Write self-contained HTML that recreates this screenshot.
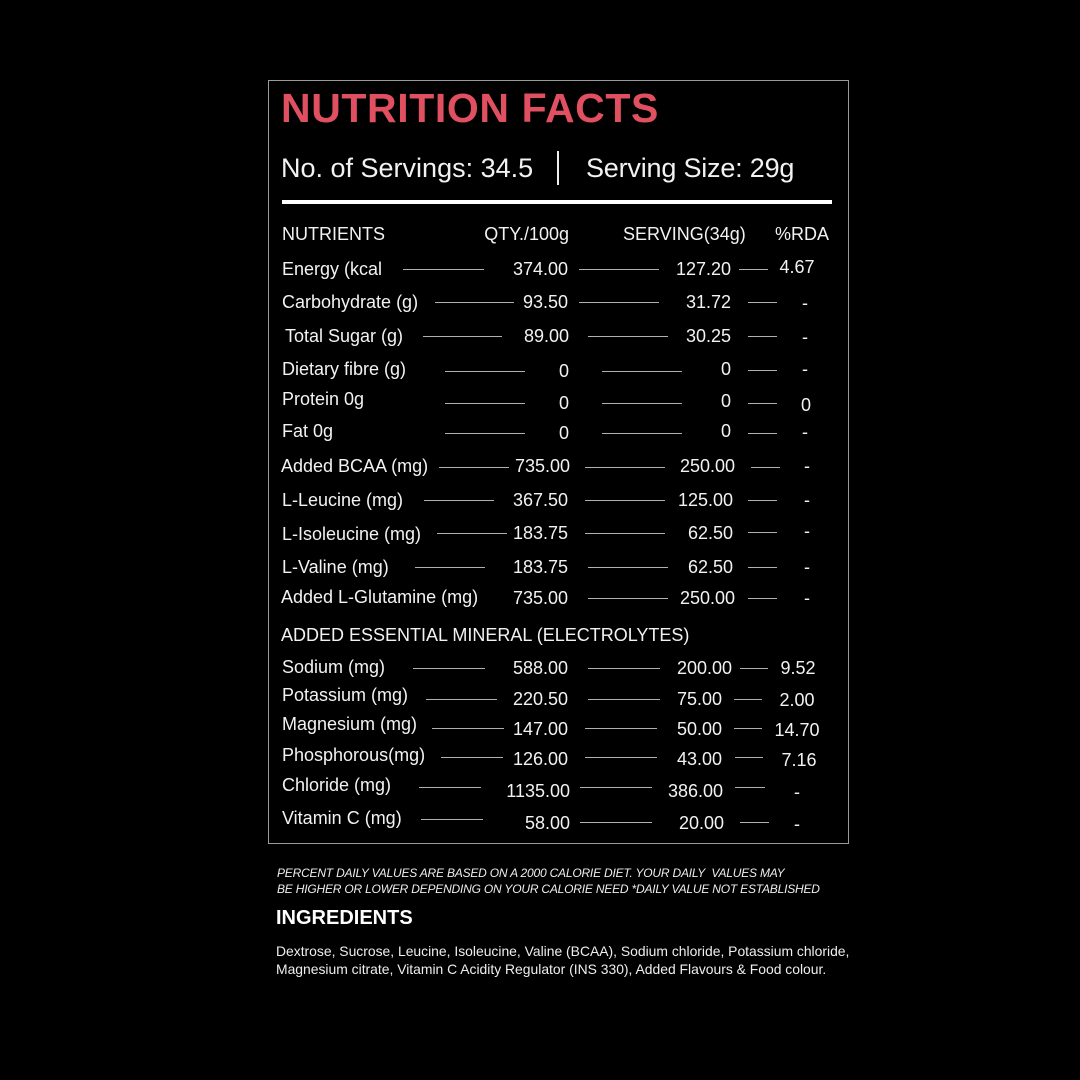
<!DOCTYPE html>
<html><head><meta charset="utf-8"><style>
html,body{margin:0;padding:0;background:#000;}
body{width:1080px;height:1080px;position:relative;overflow:hidden;font-family:"Liberation Sans",sans-serif;color:#f2f2f2;}
.t{position:absolute;font-size:18px;line-height:22px;white-space:nowrap;}
.c{transform:translateX(-50%);}
.l{position:absolute;height:1px;background:#b0b0b0;}
</style></head><body>
<div style="position:absolute;left:268px;top:80px;width:579px;height:762px;border:1px solid #9a9a9a;"></div>
<div style="position:absolute;left:281px;top:84px;font-size:41px;font-weight:bold;color:#e05060;line-height:48px;letter-spacing:0.6px;">NUTRITION FACTS</div>
<div style="position:absolute;left:281px;top:152px;font-size:27px;line-height:32px;">No. of Servings: 34.5</div>
<div style="position:absolute;left:557px;top:151px;width:2px;height:34px;background:#eee;"></div>
<div style="position:absolute;left:586px;top:152px;font-size:27px;line-height:32px;letter-spacing:-0.2px;">Serving Size: 29g</div>
<div style="position:absolute;left:282px;top:200px;width:550px;height:4px;background:#fff;"></div>

<div class="t" style="left:282px;top:223px">NUTRIENTS</div>
<div class="t" style="right:511px;top:223px">QTY./100g</div>
<div class="t" style="left:623px;top:223px">SERVING(34g)</div>
<div class="t" style="left:775px;top:223px">%RDA</div>

<div class="t" style="left:282px;top:258px">Energy (kcal</div>
<div class="l" style="left:403px;width:81px;top:269px"></div>
<div class="t" style="right:512px;top:258px">374.00</div>
<div class="l" style="left:579px;width:80px;top:269px"></div>
<div class="t" style="right:349px;top:258px">127.20</div>
<div class="l" style="left:739px;width:29px;top:269px"></div>
<div class="t c" style="left:797px;top:256px">4.67</div>

<div class="t" style="left:282px;top:291px">Carbohydrate (g)</div>
<div class="l" style="left:435px;width:79px;top:302px"></div>
<div class="t" style="right:512px;top:291px">93.50</div>
<div class="l" style="left:579px;width:80px;top:302px"></div>
<div class="t" style="right:349px;top:291px">31.72</div>
<div class="l" style="left:748px;width:29px;top:302px"></div>
<div class="t c" style="left:805px;top:292px">-</div>

<div class="t" style="left:285px;top:325px">Total Sugar (g)</div>
<div class="l" style="left:423px;width:79px;top:336px"></div>
<div class="t" style="right:511px;top:325px">89.00</div>
<div class="l" style="left:588px;width:80px;top:336px"></div>
<div class="t" style="right:349px;top:325px">30.25</div>
<div class="l" style="left:748px;width:29px;top:336px"></div>
<div class="t c" style="left:805px;top:326px">-</div>

<div class="t" style="left:282px;top:358px">Dietary fibre (g)</div>
<div class="l" style="left:445px;width:80px;top:371px"></div>
<div class="t c" style="left:564px;top:360px">0</div>
<div class="l" style="left:602px;width:80px;top:371px"></div>
<div class="t c" style="left:726px;top:358px">0</div>
<div class="l" style="left:748px;width:29px;top:370px"></div>
<div class="t c" style="left:805px;top:358px">-</div>

<div class="t" style="left:282px;top:388px">Protein 0g</div>
<div class="l" style="left:445px;width:80px;top:403px"></div>
<div class="t c" style="left:564px;top:392px">0</div>
<div class="l" style="left:602px;width:80px;top:403px"></div>
<div class="t c" style="left:726px;top:390px">0</div>
<div class="l" style="left:748px;width:29px;top:403px"></div>
<div class="t c" style="left:806px;top:394px">0</div>

<div class="t" style="left:282px;top:420px">Fat 0g</div>
<div class="l" style="left:445px;width:80px;top:433px"></div>
<div class="t c" style="left:564px;top:422px">0</div>
<div class="l" style="left:602px;width:80px;top:433px"></div>
<div class="t c" style="left:726px;top:420px">0</div>
<div class="l" style="left:748px;width:29px;top:433px"></div>
<div class="t c" style="left:805px;top:421px">-</div>

<div class="t" style="left:281px;top:455px">Added BCAA (mg)</div>
<div class="l" style="left:439px;width:70px;top:467px"></div>
<div class="t" style="right:510px;top:455px">735.00</div>
<div class="l" style="left:585px;width:80px;top:467px"></div>
<div class="t" style="right:345px;top:455px">250.00</div>
<div class="l" style="left:751px;width:29px;top:467px"></div>
<div class="t c" style="left:807px;top:455px">-</div>

<div class="t" style="left:282px;top:489px">L-Leucine (mg)</div>
<div class="l" style="left:424px;width:70px;top:500px"></div>
<div class="t" style="right:512px;top:489px">367.50</div>
<div class="l" style="left:585px;width:80px;top:500px"></div>
<div class="t" style="right:347px;top:489px">125.00</div>
<div class="l" style="left:748px;width:29px;top:500px"></div>
<div class="t c" style="left:807px;top:489px">-</div>

<div class="t" style="left:282px;top:523px">L-Isoleucine (mg)</div>
<div class="l" style="left:437px;width:70px;top:533px"></div>
<div class="t" style="right:512px;top:522px">183.75</div>
<div class="l" style="left:585px;width:80px;top:533px"></div>
<div class="t" style="right:347px;top:522px">62.50</div>
<div class="l" style="left:748px;width:29px;top:532px"></div>
<div class="t c" style="left:807px;top:520px">-</div>

<div class="t" style="left:282px;top:556px">L-Valine (mg)</div>
<div class="l" style="left:415px;width:70px;top:567px"></div>
<div class="t" style="right:512px;top:556px">183.75</div>
<div class="l" style="left:588px;width:80px;top:567px"></div>
<div class="t" style="right:347px;top:556px">62.50</div>
<div class="l" style="left:748px;width:29px;top:567px"></div>
<div class="t c" style="left:807px;top:556px">-</div>

<div class="t" style="left:281px;top:586px">Added L-Glutamine (mg)</div>
<div class="t" style="right:512px;top:587px">735.00</div>
<div class="l" style="left:588px;width:80px;top:598px"></div>
<div class="t" style="right:345px;top:587px">250.00</div>
<div class="l" style="left:748px;width:29px;top:598px"></div>
<div class="t c" style="left:807px;top:587px">-</div>

<div class="t" style="left:281px;top:624px">ADDED ESSENTIAL MINERAL (ELECTROLYTES)</div>

<div class="t" style="left:282px;top:656px">Sodium (mg)</div>
<div class="l" style="left:413px;width:72px;top:668px"></div>
<div class="t" style="right:512px;top:657px">588.00</div>
<div class="l" style="left:588px;width:72px;top:668px"></div>
<div class="t" style="right:348px;top:657px">200.00</div>
<div class="l" style="left:740px;width:28px;top:668px"></div>
<div class="t c" style="left:798px;top:657px">9.52</div>

<div class="t" style="left:282px;top:684px">Potassium (mg)</div>
<div class="l" style="left:426px;width:71px;top:699px"></div>
<div class="t" style="right:512px;top:688px">220.50</div>
<div class="l" style="left:588px;width:72px;top:699px"></div>
<div class="t" style="right:358px;top:688px">75.00</div>
<div class="l" style="left:734px;width:28px;top:699px"></div>
<div class="t c" style="left:797px;top:689px">2.00</div>

<div class="t" style="left:282px;top:713px">Magnesium (mg)</div>
<div class="l" style="left:432px;width:72px;top:728px"></div>
<div class="t" style="right:512px;top:718px">147.00</div>
<div class="l" style="left:585px;width:72px;top:728px"></div>
<div class="t" style="right:358px;top:718px">50.00</div>
<div class="l" style="left:734px;width:28px;top:728px"></div>
<div class="t c" style="left:797px;top:719px">14.70</div>

<div class="t" style="left:282px;top:744px">Phosphorous(mg)</div>
<div class="l" style="left:441px;width:62px;top:757px"></div>
<div class="t" style="right:512px;top:748px">126.00</div>
<div class="l" style="left:585px;width:72px;top:757px"></div>
<div class="t" style="right:358px;top:748px">43.00</div>
<div class="l" style="left:735px;width:28px;top:757px"></div>
<div class="t c" style="left:799px;top:749px">7.16</div>

<div class="t" style="left:282px;top:774px">Chloride (mg)</div>
<div class="l" style="left:419px;width:62px;top:787px"></div>
<div class="t" style="right:510px;top:780px">1135.00</div>
<div class="l" style="left:580px;width:72px;top:787px"></div>
<div class="t" style="right:357px;top:780px">386.00</div>
<div class="l" style="left:735px;width:30px;top:787px"></div>
<div class="t c" style="left:797px;top:781px">-</div>

<div class="t" style="left:282px;top:807px">Vitamin C (mg)</div>
<div class="l" style="left:421px;width:62px;top:819px"></div>
<div class="t" style="right:510px;top:812px">58.00</div>
<div class="l" style="left:580px;width:72px;top:822px"></div>
<div class="t" style="right:356px;top:812px">20.00</div>
<div class="l" style="left:740px;width:29px;top:822px"></div>
<div class="t c" style="left:797px;top:813px">-</div>

<div style="position:absolute;left:277px;top:865px;font-size:12px;line-height:16px;font-style:italic;color:#eee;letter-spacing:-0.2px;">PERCENT DAILY VALUES ARE BASED ON A 2000 CALORIE DIET. YOUR DAILY&nbsp; VALUES MAY<br>BE HIGHER OR LOWER DEPENDING ON YOUR CALORIE NEED *DAILY VALUE NOT ESTABLISHED</div>
<div style="position:absolute;left:276px;top:906px;font-size:20px;line-height:24px;font-weight:bold;color:#fff;">INGREDIENTS</div>
<div style="position:absolute;left:276px;top:942px;font-size:13.9px;line-height:18px;color:#eee;white-space:nowrap;">Dextrose, Sucrose, Leucine, Isoleucine, Valine (BCAA), Sodium chloride, Potassium chloride,<br>Magnesium citrate, Vitamin C Acidity Regulator (INS 330), Added Flavours &amp; Food colour.</div>
</body></html>
